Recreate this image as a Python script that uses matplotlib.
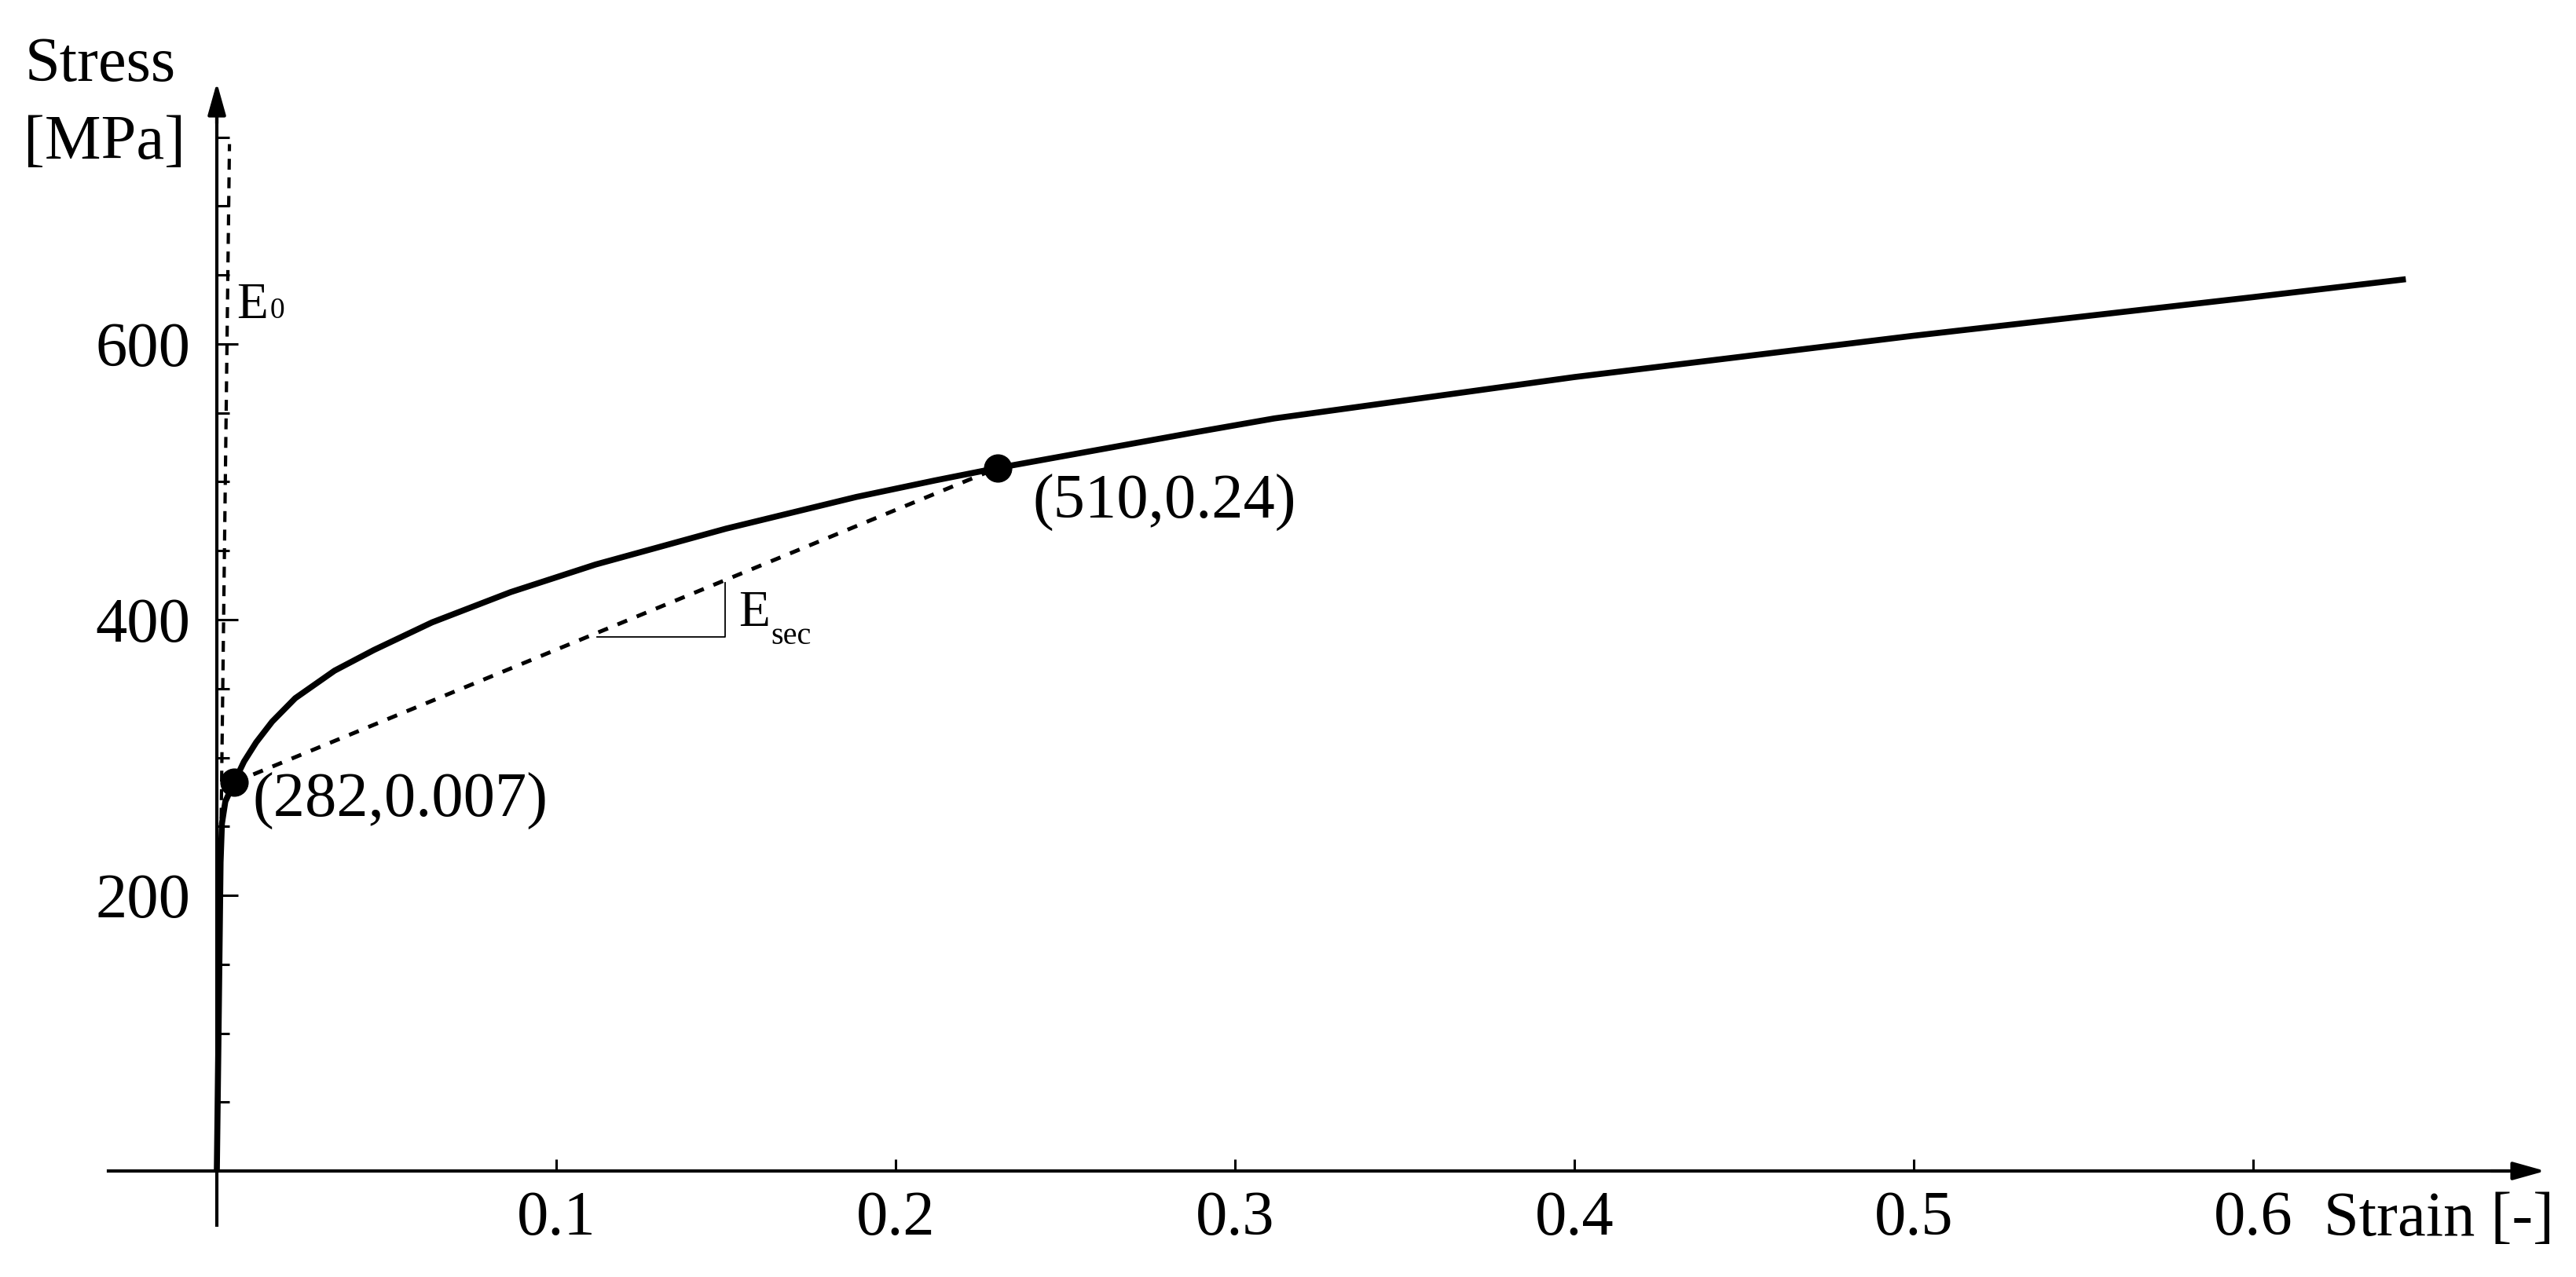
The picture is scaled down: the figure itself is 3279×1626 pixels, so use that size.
import matplotlib
matplotlib.use("Agg")
import matplotlib.pyplot as plt

plt.rcParams['font.family'] = ['Liberation Serif', 'DejaVu Serif']
plt.rcParams['lines.scale_dashes'] = False

# ---------------- data ----------------
strain = [0, 0.0006, 0.0011, 0.0015, 0.0025, 0.0051, 0.0080, 0.0116, 0.0163,
          0.0231, 0.0347, 0.0463, 0.0634, 0.0866, 0.1116, 0.15, 0.1884,
          0.2116, 0.2300, 0.2884, 0.3116, 0.4, 0.5, 0.6, 0.645]
stress = [0, 120, 224, 252, 268, 282, 297, 311, 326,
          343, 363, 378, 398, 420, 440, 466, 489,
          501, 510, 536, 546, 576, 606, 634, 647]

point_strain = [0.0051, 0.2300]
point_stress = [282, 510]
point_labels = ['(282,0.007)', '(510,0.24)']

e0_strain = [0, 0.00372]
e0_stress = [0, 745]

tri_strain = [0.112, 0.1498, 0.1498]
tri_stress = [387.5, 387.5, 426.8]

x_ticks = [0.1, 0.2, 0.3, 0.4, 0.5, 0.6]
x_tick_labels = ['0.1', '0.2', '0.3', '0.4', '0.5', '0.6']
y_major = [200, 400, 600]
y_major_labels = ['200', '400', '600']
y_minor = [50, 100, 150, 250, 300, 350, 450, 500, 550, 650, 700, 750]

# ---------------- figure ----------------
W, H = 3280, 1626
fig = plt.figure(figsize=(W / 100, H / 100), dpi=100)
ax = fig.add_axes([0, 0, 1, 1])
ax.set_facecolor('white')
ax.set_xlim(-0.06389, 0.69537)
ax.set_ylim(-76.92, 849.57)

def fx(px):
    return px / W

def fy(py):
    return 1 - py / H

for s in ['top', 'right']:
    ax.spines[s].set_visible(False)
ax.spines['left'].set_position(('data', 0))
ax.spines['bottom'].set_position(('data', 0))
ax.spines['left'].set_bounds(-39.3, 765)
ax.spines['bottom'].set_bounds(-0.0319, 0.675)
ax.spines['left'].set_linewidth(3)
ax.spines['bottom'].set_linewidth(3)

ax.set_xticks(x_ticks, x_tick_labels)
ax.set_yticks(y_major, y_major_labels)
ax.set_yticks(y_minor, minor=True)
ax.tick_params(axis='y', which='major', direction='in', length=19.5, width=2.2,
               pad=24, labelsize=58)
ax.tick_params(axis='y', which='minor', direction='in', length=11.5, width=2.2)
ax.tick_params(axis='x', which='major', direction='in', length=10.5, width=2.2,
               pad=18, labelsize=58)

# axis arrows
arrow_kw = dict(arrowstyle='-|>,head_length=25,head_width=7', mutation_scale=1,
                lw=3, color='black', shrinkA=0, shrinkB=0)
ax.annotate('', xy=(0, 789.7), xytext=(0, 760), arrowprops=arrow_kw)
ax.annotate('', xy=(0.6861, 0), xytext=(0.670, 0), arrowprops=arrow_kw)

# dashed reference lines
ax.plot(e0_strain, e0_stress, color='black', lw=3.0, dashes=[10, 7],
        dash_capstyle='butt', zorder=2)
ax.plot(point_strain, point_stress, color='black', lw=3.6, dashes=[9.5, 9.5],
        dash_capstyle='butt', zorder=2)
ax.plot(tri_strain, tri_stress, color='black', lw=1.3, zorder=2)

# main curve
ax.plot(strain, stress, color='black', lw=5.5, solid_joinstyle='round',
        solid_capstyle='butt', zorder=3)
ax.plot(point_strain, point_stress, 'o', color='black', markersize=25, zorder=4)

# ---------------- texts ----------------
fs = 58
fig.text(fx(32), fy(103), 'Stress', fontsize=fs, ha='left', va='baseline')
fig.text(fx(30), fy(202), '[MPa]', fontsize=fs, ha='left', va='baseline')
fig.text(fx(2958), fy(1573), 'Strain [-]', fontsize=fs, ha='left', va='baseline')

fig.text(fx(322), fy(1040), point_labels[0], fontsize=fs, ha='left', va='baseline')
fig.text(fx(1314), fy(660), point_labels[1], fontsize=fs, ha='left', va='baseline')

fig.text(fx(301), fy(405), 'E', fontsize=47, ha='left', va='baseline')
fig.text(fx(344), fy(405), '0', fontsize=27, ha='left', va='baseline')
fig.text(fx(940), fy(797), 'E', fontsize=47, ha='left', va='baseline')
fig.text(fx(981), fy(820), 'sec', fontsize=29, ha='left', va='baseline')

fig.savefig('out.png', dpi=100, facecolor='white')
